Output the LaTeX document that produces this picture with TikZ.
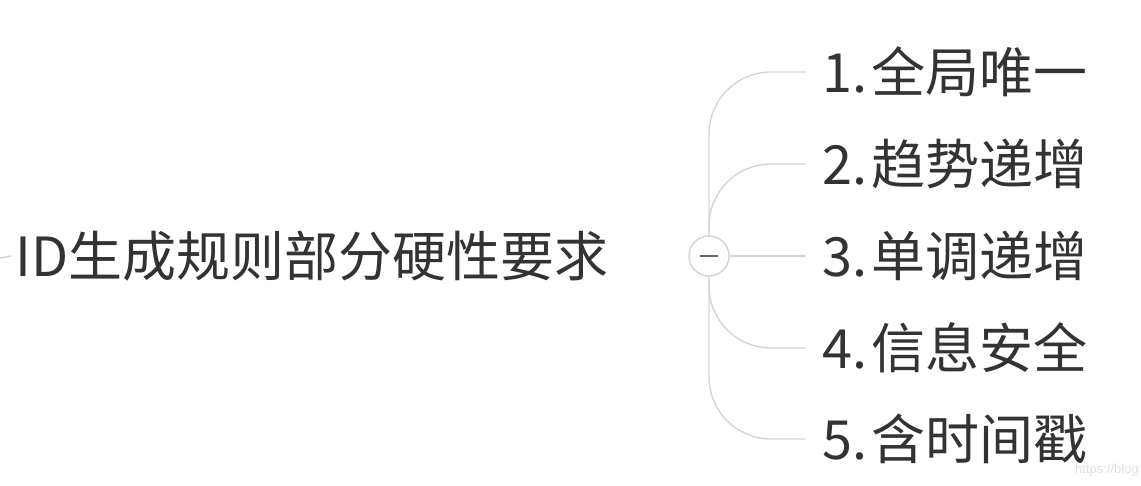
\documentclass[tikz,border=0pt]{standalone}
\usepackage{fontspec}
\setmainfont{Noto Sans CJK SC}
\newfontfamily\wmfont{Liberation Sans}
\definecolor{txt}{HTML}{333333}
\definecolor{ln}{HTML}{D4D4D4}
\begin{document}
\begin{tikzpicture}[x=1pt,y=-1pt,
  lbl/.style={anchor=west,inner sep=0pt,text=txt,font=\fontsize{54}{58}\selectfont},
  conn/.style={draw=ln,line width=1.4pt,rounded corners=62pt}]
\useasboundingbox (0,0) rectangle (1141,485);
\fill[white] (0,0) rectangle (1141,485);
\node[lbl] (root) at (15,256) {ID生成规则部分硬性要求};
\coordinate (rootl) at (0,258);
\draw[ln,line width=1.4pt] (rootl) -- ([xshift=-4pt]root.west);
\node[circle,draw=ln,line width=1.4pt,minimum size=40pt,inner sep=0pt] (c) at (709,256) {};
\draw[line width=1.6pt,color=black!60] ([xshift=-9pt]c.center) -- ([xshift=9pt]c.center);
\node[lbl] (l1) at (822,72) {1.\hspace{4pt}全局唯一};
\node[lbl] (l2) at (822,164) {2.\hspace{4pt}趋势递增};
\node[lbl] (l3) at (822,256) {3.\hspace{4pt}单调递增};
\node[lbl] (l4) at (822,348) {4.\hspace{4pt}信息安全};
\node[lbl] (l5) at (822,439) {5.\hspace{4pt}含时间戳};
\draw[conn] (c.north) |- ([xshift=-16pt]l1.west);
\draw[conn] (c.north) |- ([xshift=-16pt]l2.west);
\draw[conn] (c.east) -- ([xshift=-16pt]l3.west);
\draw[conn] (c.south) |- ([xshift=-16pt]l4.west);
\draw[conn] (c.south) |- ([xshift=-16pt]l5.west);
\node[anchor=east,inner sep=0pt,text=black!12,font=\wmfont\fontsize{13}{14}\selectfont] (wm) at (1139,470) {https://blog};
\end{tikzpicture}
\end{document}
